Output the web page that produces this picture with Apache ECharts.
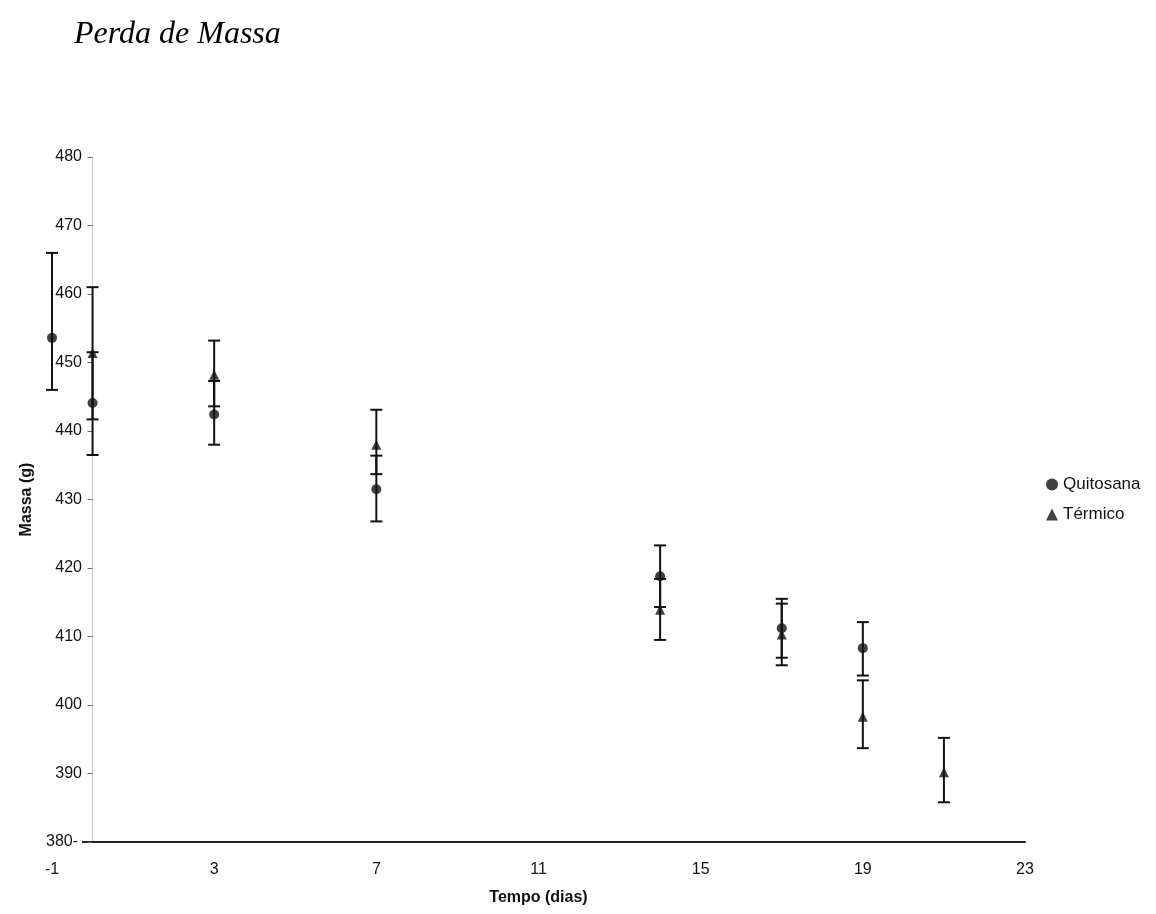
<!DOCTYPE html>
<html>
<head>
<meta charset="utf-8">
<title>Perda de Massa</title>
<script src="https://cdn.jsdelivr.net/npm/echarts@6/dist/echarts.min.js"></script>
<style>
  html, body { margin: 0; padding: 0; background: #fff; }
  #chart { width: 1156px; height: 914px; }
</style>
</head>
<body>
<div id="chart"></div>
<script>
// Mass (g) over storage time (days), mean with error bar limits
const quitDays = [-1, 0, 3, 7, 14, 17, 19];
const quitMean = [453.6, 444.1, 442.4, 431.5, 418.8, 411.2, 408.3];
const quitLow  = [446.0, 436.5, 438.0, 426.8, 414.3, 406.9, 404.3];
const quitHigh = [466.0, 451.5, 447.3, 436.4, 423.3, 415.5, 412.1];

const termDays = [0, 3, 7, 14, 17, 19, 21];
const termMean = [451.4, 448.2, 438.0, 413.9, 410.3, 398.3, 390.2];
const termLow  = [441.7, 443.6, 433.7, 409.5, 405.8, 393.7, 385.8];
const termHigh = [461.0, 453.2, 443.1, 418.4, 414.8, 403.6, 395.2];

const seriesNames = ['Quitosana', 'Térmico'];
const titleText = 'Perda de Massa';
const xName = 'Tempo (dias)';
const yName = 'Massa (g)';
const yMin = 380;

const font = "'Liberation Sans', Arial, sans-serif";

function pointData(days, mean) {
  return days.map((d, i) => [d, mean[i]]);
}
function barData(days, low, high) {
  return days.map((d, i) => [d, low[i], high[i]]);
}

// vertical whisker with caps at both ends
function renderErrorBar(params, api) {
  const x = api.value(0);
  const lo = api.coord([x, api.value(1)]);
  const hi = api.coord([x, api.value(2)]);
  const half = 6;
  const style = { stroke: '#111', lineWidth: 2 };
  return {
    type: 'group',
    children: [
      { type: 'line', shape: { x1: lo[0], y1: lo[1], x2: hi[0], y2: hi[1] }, style },
      { type: 'line', shape: { x1: hi[0] - half, y1: hi[1], x2: hi[0] + half, y2: hi[1] }, style },
      { type: 'line', shape: { x1: lo[0] - half, y1: lo[1], x2: lo[0] + half, y2: lo[1] }, style }
    ]
  };
}

const chart = echarts.init(document.getElementById('chart'), null, { renderer: 'canvas' });

chart.setOption({
  animation: false,
  backgroundColor: '#ffffff',
  title: {
    text: titleText,
    left: 69,
    top: 14,
    textStyle: {
      fontFamily: "'Liberation Serif', 'Times New Roman', serif",
      fontStyle: 'italic',
      fontWeight: 'normal',
      fontSize: 32,
      color: '#000'
    }
  },
  legend: {
    orient: 'vertical',
    left: 1041,
    top: 471,
    itemWidth: 12,
    itemHeight: 12,
    itemGap: 13,
    textStyle: { fontFamily: font, fontSize: 17, color: '#111' },
    data: [
      { name: seriesNames[0], icon: 'circle' },
      { name: seriesNames[1], icon: 'triangle' }
    ]
  },
  grid: { left: 52, right: 131, top: 157, bottom: 72, containLabel: false, outerBoundsMode: 'none' },
  xAxis: {
    type: 'value',
    min: -1,
    max: 23,
    interval: 4,
    name: xName,
    nameLocation: 'middle',
    nameGap: 48,
    nameTextStyle: { fontFamily: font, fontSize: 16, fontWeight: 'bold', color: '#111' },
    axisLine: { show: true, lineStyle: { color: '#222', width: 2 } },
    axisTick: { show: false },
    axisLabel: { fontFamily: font, fontSize: 16, color: '#111', margin: 20 },
    splitLine: { show: false }
  },
  yAxis: {
    type: 'value',
    min: yMin,
    max: 480,
    interval: 10,
    name: yName,
    nameLocation: 'middle',
    nameGap: 16,
    nameRotate: 90,
    nameTextStyle: { fontFamily: font, fontSize: 16, fontWeight: 'bold', color: '#111' },
    axisLine: { show: true, onZero: true, lineStyle: { color: '#c8c8c8', width: 1 } },
    axisTick: { show: true, length: 5, lineStyle: { color: '#666' } },
    axisLabel: {
      fontFamily: font,
      fontSize: 16,
      color: '#111',
      margin: -30,
      // the bottom label sits on a white patch so the baseline starts after it
      formatter: v => (v === yMin ? '{base|' + v + '-}' : String(v)),
      rich: {
        base: { fontFamily: font, fontSize: 16, color: '#111', backgroundColor: '#fff', padding: [1, 4, 1, 0] }
      }
    },
    splitLine: { show: false }
  },
  series: [
    {
      name: seriesNames[0] + ' erro',
      type: 'custom',
      renderItem: renderErrorBar,
      encode: { x: 0, y: [1, 2] },
      data: barData(quitDays, quitLow, quitHigh),
      z: 2
    },
    {
      name: seriesNames[1] + ' erro',
      type: 'custom',
      renderItem: renderErrorBar,
      encode: { x: 0, y: [1, 2] },
      data: barData(termDays, termLow, termHigh),
      z: 2
    },
    {
      name: seriesNames[0],
      type: 'scatter',
      symbol: 'circle',
      symbolSize: 10,
      itemStyle: { color: '#111' },
      data: pointData(quitDays, quitMean),
      z: 3
    },
    {
      name: seriesNames[1],
      type: 'scatter',
      symbol: 'triangle',
      symbolSize: 10,
      itemStyle: { color: '#111' },
      data: pointData(termDays, termMean),
      z: 3
    }
  ]
});
</script>
</body>
</html>
